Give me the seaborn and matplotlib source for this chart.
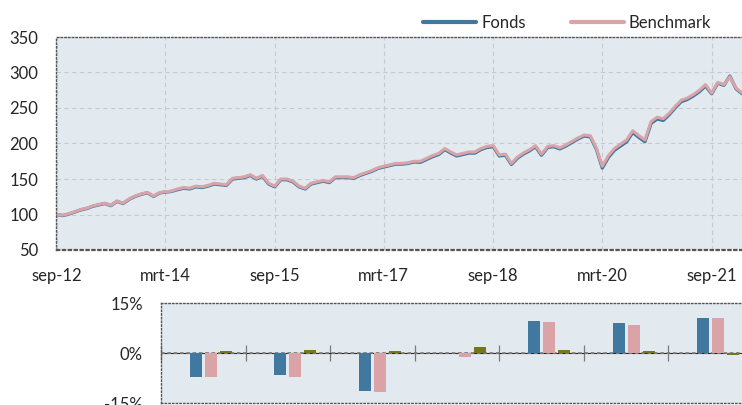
import matplotlib
matplotlib.use("Agg")
import matplotlib.pyplot as plt
import pandas as pd
import seaborn as sns

# index values per month, sep-12 .. feb-22
start = "2012-09-01"
benchmark = [
    100, 99, 101, 104, 107, 109, 112, 114, 116, 113,
    119, 116, 122, 126, 129, 131, 126, 131, 132, 133,
    136, 138, 137, 140, 139, 141, 144, 143, 142, 151,
    152, 153, 156, 151, 155, 144, 140, 150, 150, 147,
    140, 137, 144, 146, 148, 146, 153, 153, 153, 152,
    156, 159, 162, 166, 168, 170, 172, 172, 173, 175,
    175, 179, 183, 186, 193, 188, 184, 186, 188, 188,
    193, 196, 197, 184, 185, 172, 181, 187, 191, 197,
    185, 196, 197, 194, 198, 203, 208, 212, 211, 193,
    168, 183, 193, 199, 205, 218, 211, 205, 231, 237,
    235, 243, 252, 261, 264, 269, 275, 283, 271, 286,
    283, 294, 278, 271,
]
fonds = [
    100, 98.5, 100.5, 103.5, 106.5, 108.5, 111.5, 113.5, 115.5, 112.5,
    118.5, 115.5, 121.5, 125.5, 128.5, 130.5, 125.5, 130.5, 131.5, 132.5,
    135, 137, 136, 139, 138, 140, 143, 142, 141, 150,
    151, 152, 155, 150, 154, 143, 139, 149, 149, 146,
    139, 136, 143, 145, 147, 145, 152, 152, 152, 151,
    155, 158, 161, 165, 167, 169, 171, 171, 172, 174,
    173.5, 177.5, 181.5, 184.5, 191.5, 186.5, 182.5, 184.5, 186.5, 186.5,
    191.5, 194.5, 195.5, 182.5, 183.5, 170.5, 179.5, 185.5, 189.5, 195.5,
    183.5, 194.5, 195.5, 192.5, 196.5, 201.5, 206.5, 210.5, 209.5, 191.5,
    165.5, 180.5, 190.5, 196.5, 202.5, 215.5, 208.5, 202.5, 228.5, 234.5,
    232.5, 241, 250, 259, 262, 267, 273, 281, 270, 285,
    282, 295, 277, 270,
]
tick_dates = ["2012-09-01", "2014-03-01", "2015-09-01", "2017-03-01",
              "2018-09-01", "2020-03-01", "2021-09-01"]
tick_labels = ["sep-12", "mrt-14", "sep-15", "mrt-17", "sep-18", "mrt-20", "sep-21"]

# rendementen per periode (onderste grafiek)
periods = ["1 mnd", "3 mnd", "YTD", "1 jaar", "3 jaar", "5 jaar", "Sinds start"]
fonds_ret = [-7.2, -6.5, -11.4, 0.1, 9.7, 8.9, 10.4]
bench_ret = [-7.3, -7.2, -11.6, -1.3, 9.2, 8.5, 10.4]
diff_ret = [0.6, 0.8, 0.5, 1.7, 0.9, 0.7, -0.5]

blue = "#41789f"
pink = "#d9a3a8"
olive = "#76761a"
bg = "#e2eaf0"
spine_col = "#555555"

sns.set_style("white")
plt.rcParams["font.family"] = ["Lato", "DejaVu Sans"]
plt.rcParams["font.size"] = 12

W, H = 742, 405
fig = plt.figure(figsize=(W / 100, H / 100), dpi=100)

# top chart
ax = fig.add_axes([56.5 / W, 1 - 250 / H, (747.8 - 56.5) / W, 213 / H])
df = pd.DataFrame({
    "datum": pd.date_range(start, periods=len(benchmark), freq="MS"),
    "Fonds": fonds,
    "Benchmark": benchmark,
})
sns.lineplot(data=df, x="datum", y="Fonds", color=blue, linewidth=2.4, ax=ax, label="Fonds")
sns.lineplot(data=df, x="datum", y="Benchmark", color=pink, linewidth=2.2, ax=ax, label="Benchmark")
handles, labels = ax.get_legend_handles_labels()
ax.get_legend().remove()

ax.set_facecolor(bg)
ax.set_ylim(50, 350)
ax.set_yticks(range(50, 351, 50))
ax.set_xlim(pd.Timestamp("2012-09-01"), pd.Timestamp("2022-03-01"))
ax.set_xticks(pd.to_datetime(tick_dates))
ax.set_xticklabels(tick_labels)
ax.set_xlabel("")
ax.set_ylabel("")
ax.grid(True, color="#c4cad0", linestyle=(0, (4, 3)), linewidth=0.8)
ax.tick_params(axis="both", length=3, color="#999999", pad=10, labelsize=12)
for s in ax.spines.values():
    s.set_linestyle(":")
    s.set_color(spine_col)
    s.set_linewidth(1)
ax.spines["bottom"].set_linewidth(1.6)
ax.spines["right"].set_visible(False)

leg = fig.legend(handles, labels, loc="center", bbox_to_anchor=(567 / W, 1 - 23 / H),
                 ncol=2, frameon=False, handlelength=3.2, columnspacing=2.7,
                 handletextpad=0.3, fontsize=12)
for line in leg.get_lines():
    line.set_linewidth(3)

# bottom chart
ax2 = fig.add_axes([161 / W, 2 / H, (753 - 161) / W, 100 / H])
bars = pd.DataFrame({
    "periode": periods * 3,
    "reeks": ["Fonds"] * 7 + ["Benchmark"] * 7 + ["Verschil"] * 7,
    "waarde": fonds_ret + bench_ret + diff_ret,
})
hue_order = ["leeg", "Fonds", "Benchmark", "Verschil"]
sns.barplot(data=bars, x="periode", y="waarde", hue="reeks", order=periods,
            hue_order=hue_order,
            palette={"leeg": bg, "Fonds": blue, "Benchmark": pink, "Verschil": olive},
            width=0.71, gap=0.2, saturation=1, legend=False, ax=ax2, zorder=2,
            edgecolor="none", linewidth=0)
ax2.set_facecolor(bg)
ax2.set_xlim(-0.5, 6.5)
ax2.set_ylim(-15, 15)
ax2.set_yticks([-15, 0, 15])
ax2.set_yticklabels(["-15%", "0%", "15%"])
ax2.set_xticks([])
ax2.set_xlabel("")
ax2.set_ylabel("")
ax2.tick_params(axis="y", length=0, pad=13, labelsize=12)
for s in ax2.spines.values():
    s.set_linestyle(":")
    s.set_color(spine_col)
    s.set_linewidth(1)

# zero line with category separators
ax2.axhline(0, color="#808080", linestyle=(0, (2, 1.5)), linewidth=1.3, zorder=1)
zero = ax2.secondary_xaxis(0.5)
zero.set_xticks([i - 0.5 for i in range(8)])
zero.set_xticklabels([])
zero.tick_params(direction="inout", length=12, color="#7a7a7a", width=0.9)
zero.spines["bottom"].set_visible(False)

fig.savefig("out.png", dpi=100)
